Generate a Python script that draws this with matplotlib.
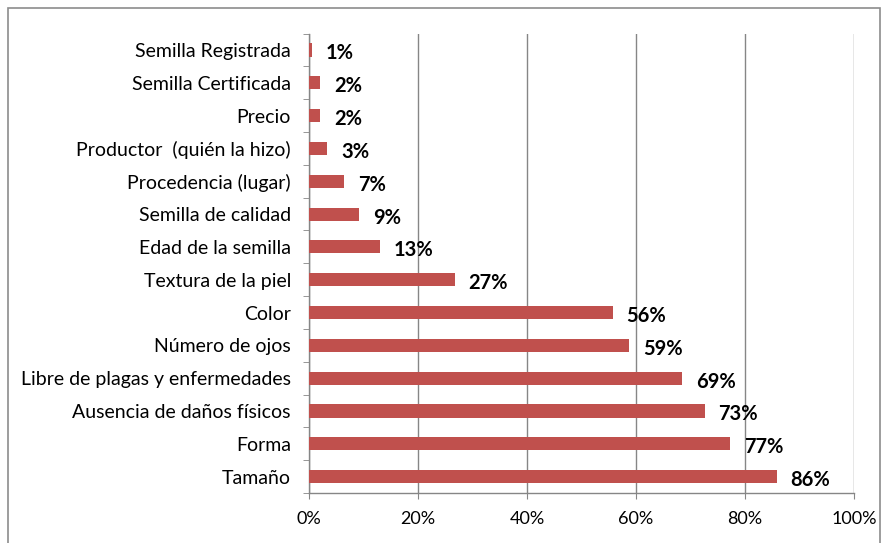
import matplotlib.pyplot as plt
from matplotlib.patches import Rectangle
from matplotlib.ticker import FuncFormatter, FixedLocator

#%% data
categories = ['Semilla Registrada', 'Semilla Certificada', 'Precio',
              'Productor  (quién la hizo)', 'Procedencia (lugar)',
              'Semilla de calidad', 'Edad de la semilla', 'Textura de la piel',
              'Color', 'Número de ojos', 'Libre de plagas y enfermedades',
              'Ausencia de daños físicos', 'Forma', 'Tamaño']
values = [0.6, 2.0, 2.0, 3.3, 6.5, 9.2, 13.0, 26.7, 55.7, 58.7, 68.5, 72.6, 77.2, 85.8]
labels = ['1%', '2%', '2%', '3%', '7%', '9%', '13%', '27%', '56%', '59%',
          '69%', '73%', '77%', '86%']

#%% style
plt.rcParams['font.family'] = ['Lato', 'DejaVu Sans']
bar_color = '#C0504D'
grid_color = '#868686'

fig = plt.figure(figsize=(8.9, 5.43), dpi=100)
ax = fig.add_axes([309/890, 50/543, 545/890, 459.4/543])

# outer chart border
fig.patches.append(Rectangle((8/890, -0.02), 872/890, (535/543) + 0.02,
                             transform=fig.transFigure, fill=False,
                             edgecolor='#8c8c8c', linewidth=1.2))

n = len(categories)
ypos = [n - 1 - i for i in range(n)]
ax.barh(ypos, values, height=0.4, color=bar_color, zorder=3)

for y, v, lab in zip(ypos, values, labels):
    ax.annotate(lab, (v, y), xytext=(10, -2.5), textcoords='offset points',
                ha='left', va='center', fontsize=14.5, fontweight='bold',
                color='black', zorder=4)

ax.set_xlim(0, 100)
ax.set_ylim(-0.5, n - 0.5)
ax.set_xticks(range(0, 101, 20))
ax.xaxis.set_major_formatter(FuncFormatter(lambda x, p: f'{int(x)}%'))
ax.set_yticks(ypos)
ax.set_yticklabels(categories)
ax.yaxis.set_minor_locator(FixedLocator([i - 0.5 for i in range(n + 1)]))

ax.grid(axis='x', color=grid_color, linewidth=1, zorder=0)
ax.tick_params(axis='x', length=4, color=grid_color, pad=9, labelsize=13)
ax.tick_params(axis='y', which='major', length=0, pad=13, labelsize=14)
ax.tick_params(axis='y', which='minor', length=4, color=grid_color)

for s in ['top', 'right']:
    ax.spines[s].set_visible(False)
for s in ['left', 'bottom']:
    ax.spines[s].set_color(grid_color)
    ax.spines[s].set_linewidth(1)

fig.savefig('out.png', dpi=100)
